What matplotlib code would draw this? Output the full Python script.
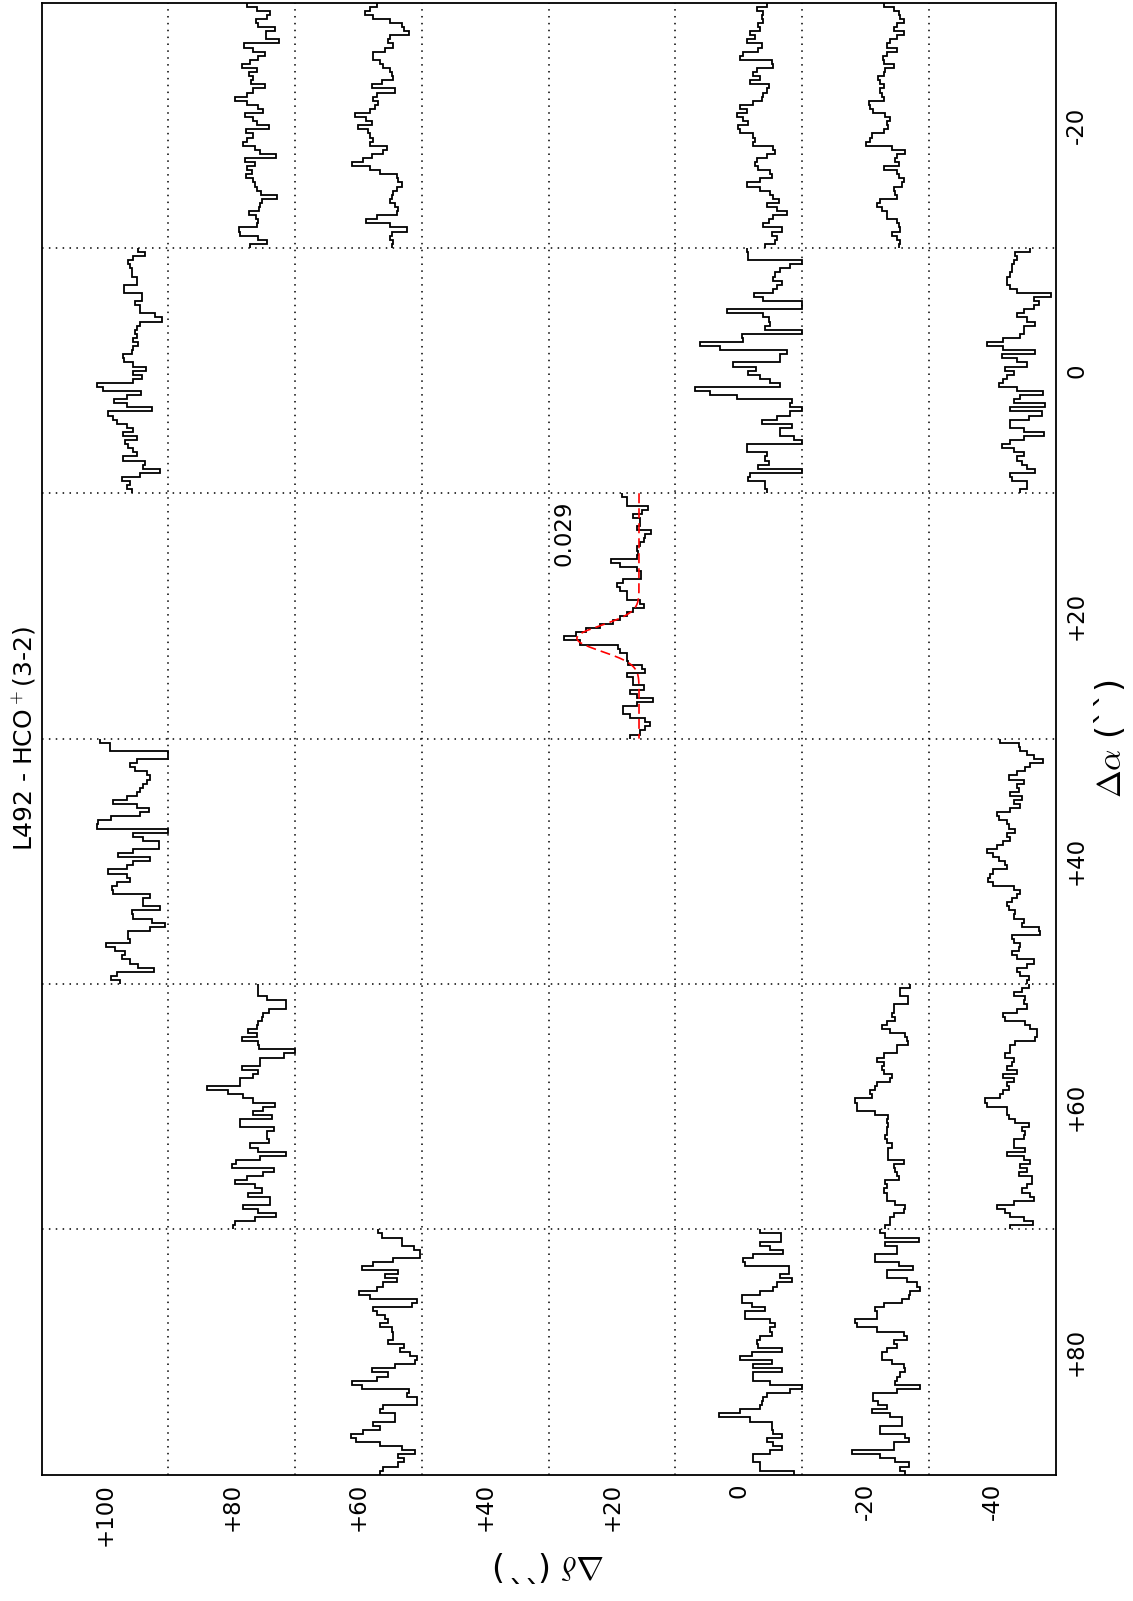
import numpy as np
import matplotlib.pyplot as plt

plt.rcParams['font.family'] = 'DejaVu Sans'
plt.rcParams['mathtext.fontset'] = 'cm'

# velocity channels (km/s)
v_start = 4.7
dv = 0.1
nchan = 60

# map offsets of the observed positions (arcsec)
ra_off = [-20, -20, -20, -20, 0, 0, 0, 20, 40, 40, 60, 60, 60, 80, 80, 80]
dec_off = [80, 60, 0, -20, 100, 0, -40, 20, 100, -40, 80, -20, -40, 60, 0, -20]

# spectra, antenna temperature per channel (mK)
t_m20_p80 = [5.7, 0.9, -5.3, -3.8, 1.3, 0.2, -7.7, -3.5, -3.5, -9.3, 6.9, 2.5, -2.7, 0.2, 4.1, 7.9, 0.9, 4.4, 2.5, 3.8,
             -3.0, 2.5, 5.7, 11.0, 5.7, 0.5, -2.2, 6.4, 2.5, 0.9, -4.6, 6.0, 2.5, 5.7, 7.2, 1.7, -0.6, -7.9, 6.4, 1.7,
             5.7, 3.3, 6.0, 2.5, 1.7, 0.9, -0.9, -8.5, -1.4, -0.6, -0.3, 4.4, 1.3, 0.2, 0.9, 9.1, 8.8, 0.5, -3.8, 4.1]
t_m20_p60 = [4.2, 7.3, 9.7, 5.7, -2.1, -7.6, -8.4, -10.8, -2.1, -1.3, -3.7, 0.2, 5.7, 5.7, 2.6, 1.0, -2.1, -2.9, -3.7, 1.8,
             6.5, -4.5, 4.2, 5.7, 3.4, 4.9, 7.3, 14.4, 8.9, 6.5, 12.8, 8.1, 7.3, 5.7, 7.3, -0.5, 1.0, 6.5, 10.4, 15.5,
             7.3, 2.6, -5.3, -6.0, -7.6, -5.3, -3.7, -2.9, -2.1, -4.5, -6.0, -5.3, 4.2, 8.9, -2.1, -10.0, -2.9, -2.1, -3.7, -2.9]
t_m20_000 = [-0.5, 4.2, 1.1, 1.9, 1.1, 3.4, 2.6, 7.3, 5.0, 8.9, 1.9, 3.4, 10.5, 12.1, -2.9, -3.6, 4.2, 5.8, 2.6, 7.3,
             -1.3, -0.5, 1.1, 1.9, 5.8, 12.1, 8.9, 13.6, 10.5, 8.1, 12.8, 12.1, 5.8, 5.0, 5.8, -3.6, -4.4, -0.5, 4.2, 5.0,
             3.4, -2.1, -2.9, 2.6, 8.9, 2.6, -2.1, -3.6, -6.0, -0.5, -5.2, -9.9, -3.6, -1.3, 1.1, -7.6, -2.9, -5.2, -4.4, 0.3]
t_m20_m20 = [4.2, -0.5, -2.8, -3.6, -5.2, -2.0, -0.5, -5.2, -2.0, 1.1, 2.7, -2.0, 2.7, 4.6, 4.2, -0.5, 3.5, 4.2, 6.6, 5.8,
             4.2, 5.8, 5.0, 4.2, 10.8, 10.5, 8.9, 3.5, 1.1, 2.7, 1.9, 4.2, 9.7, 10.5, 12.4, 0.3, -6.0, -2.0, -1.3, -2.8,
             4.2, -2.0, -2.8, -5.2, -4.4, -0.5, -1.3, -2.0, 5.8, 7.4, 5.0, 2.7, 2.7, -2.0, -2.8, -3.6, 0.3, -2.0, -3.3, -2.8]
t_000_p100 = [-3.0, -6.1, -0.6, 1.7, 0.9, 0.2, 0.2, -2.2, -2.2, 3.8, 3.8, -4.6, -4.6, -1.4, -3.8, -3.8, -10.8, -14.0, -3.8, -2.2,
              -1.4, -2.2, -0.6, -3.0, -0.6, 0.2, 4.4, 3.8, -0.6, -6.4, -0.6, -4.6, -0.6, 16.2, 13.5, -4.2, 2.5, 8.3, 2.5, -9.3,
              11.1, 8.8, 7.2, 2.5, -0.6, 4.1, -2.2, 3.3, 1.7, -0.6, -2.2, 4.1, -6.1, -5.3, -12.9, -3.8, 4.9, 0.9, 2.5, 0.2]
t_000_000 = [8.9, 8.1, 8.1, -20.0, -11.5, -6.8, -4.4, -3.6, -7.6, -5.2, -3.6, 5.5, 1.1, -20.0, -20.0, 18.3, 1.1, -1.3, -2.1, 0.3,
             -20.0, 11.3, 10.5, 30.9, 21.5, -9.9, -6.8, -6.8, 15.2, 4.5, 8.1, 2.6, -2.1, -6.8, 33.2, 26.2, 13.6, -12.3, -11.5, -17.0,
             -11.5, -5.2, 1.9, -12.3, -6.8, -6.8, -13.1, -20.0, 8.9, 8.9, -0.5, 0.3, -1.3, 3.4, -20.0, 7.3, 8.1, 0.3, 0.3, -0.5]
t_000_m40 = [-5.2, 1.9, 1.1, 2.7, 3.5, 3.5, 4.2, 5.8, 5.8, 4.2, 1.1, -14.6, -6.8, -9.1, -6.8, -2.0, 1.1, -3.6, -7.5, -2.0,
             -2.0, -0.5, 7.4, 15.2, 7.4, -7.5, 8.2, 1.1, -3.6, 6.6, 2.7, 5.8, 7.4, 9.3, 1.1, -11.1, -0.5, 2.7, -12.2, 4.2,
             -10.7, -4.4, 4.2, 4.2, -2.0, -11.5, -2.0, 4.2, 8.2, 2.7, -2.0, 1.1, -1.3, -3.6, -7.5, 4.2, 3.5, -3.6, -3.6, -0.5]
t_p20_p20 = [8.1, 5.8, 5.8, -4.4, -1.3, 2.6, -0.5, -0.5, 1.1, -5.7, -2.9, -2.1, -0.5, 1.1, 0.3, 1.1, 13.3, 8.9, 1.1, -0.8,
             -0.8, 7.3, 10.5, 8.9, 5.8, 5.8, -0.5, -2.1, 2.6, 5.8, 8.9, 12.1, 18.3, 24.6, 29.3, 34.8, 27.7, 9.7, 8.9, 5.8,
             5.8, 5.0, -1.3, -2.9, 5.8, 2.6, 2.6, -2.1, 4.2, 1.1, -6.5, 1.1, 7.3, 7.3, 4.2, -2.9, -5.2, -2.9, -0.5, 4.2]
t_p40_p100 = [15.1, 10.4, 10.4, -20.0, -20.0, -2.2, 0.9, -1.4, -6.9, -8.5, -6.9, -5.3, -3.8, -2.2, 2.5, 8.8, -2.2, -8.0, -3.8, 9.6,
              15.9, 16.2, -20.0, -0.6, -5.3, -12.4, -12.4, -0.6, 6.4, -8.5, -0.6, 2.5, 11.1, 2.5, 0.9, 7.2, 9.3, 8.8, -8.5, -5.3,
              -5.3, -13.2, 0.2, -0.6, -9.3, -15.5, -8.5, 1.7, 1.7, 0.9, 12.2, 8.0, 3.3, 4.9, 0.9, -3.0, -10.4, 7.2, 9.6, 5.7]
t_p40_m40 = [8.9, 0.3, -0.5, -3.6, -6.8, -11.1, -5.2, -2.8, 1.1, 5.0, -2.0, 1.1, 0.3, 4.2, -1.3, 2.7, -0.5, 4.2, 10.2, 9.7,
             5.8, 5.0, 1.9, 5.8, 4.2, 7.4, 10.5, 15.2, 12.1, 9.7, 6.6, 5.8, 12.1, 13.7, 14.4, 12.1, 2.7, -0.5, 1.1, 3.5,
             5.8, 5.0, 1.9, 2.7, -2.0, -1.3, -9.1, -9.9, 3.5, 2.7, -0.5, 0.3, 3.5, 1.1, -6.8, -3.6, 1.1, -0.5, -4.4, -3.6]
t_p60_p80 = [0.2, 0.2, 0.2, -3.8, -12.7, -12.7, -4.6, -2.2, -1.4, 0.2, 0.9, 4.9, 0.9, 8.0, 0.2, -0.3, -20.0, -11.6, -0.6, -0.6,
             8.0, 0.2, 2.5, 8.8, 8.8, 24.2, 14.3, 7.2, 2.5, -7.7, -2.2, 2.5, -6.1, 8.8, 8.8, -6.9, -3.8, -3.8, -4.6, 4.1,
             0.2, -12.9, -0.6, 10.4, 12.7, -6.9, -2.2, 5.7, 11.1, 1.7, -1.4, 4.9, -5.3, -5.3, 7.2, 0.2, -8.2, 1.7, 11.1, 11.9]
t_p60_m20 = [-8.3, -3.6, -3.6, -7.2, -7.2, -0.5, -0.5, 0.3, -1.3, 2.7, 5.0, 1.1, -6.0, -6.8, -7.1, -2.0, -2.0, 4.2, 7.4, 4.2,
             5.0, 4.2, 0.3, 1.1, 7.4, 8.2, 10.5, 9.7, 17.6, 16.8, 16.8, 8.2, 1.9, 2.7, 1.9, 2.7, 2.7, 3.5, 2.7, 0.3,
             1.9, 1.9, 1.9, -5.2, -0.5, -1.3, -2.0, -2.8, 3.5, 2.7, 4.2, 2.7, 2.7, -1.3, -6.0, -5.2, -0.5, 1.1, 1.1, 3.5]
t_p60_m40 = [-4.4, -1.3, 2.7, -2.8, -2.0, -3.6, 1.1, 7.4, 6.6, -2.8, -5.2, -8.3, -8.3, -7.5, 1.9, 4.2, 4.2, 6.6, 2.7, 3.5,
             5.8, 1.1, 7.4, 2.7, 5.8, 5.0, 7.4, 8.9, 16.0, 15.2, 5.8, 5.8, 5.0, 1.9, -4.4, -1.3, -2.8, -2.0, 2.7, 2.7,
             -2.8, 5.8, -2.0, -5.2, -0.5, -3.6, 0.3, -6.0, -6.0, -3.6, -1.3, -5.2, -6.8, 2.7, 10.5, 6.6, 4.2, -2.0, -6.4, 4.2]
t_p80_p60 = [3.4, 1.8, -7.6, -7.6, -13.1, -15.9, -15.9, -3.7, 5.7, 11.2, -6.0, 0.2, -5.3, 1.0, 4.2, 12.3, 7.3, -14.7, -12.3, 5.7,
             4.2, 0.2, -1.3, 2.6, -2.9, -3.7, -3.7, -1.3, -8.4, -6.8, -11.5, -14.7, -13.9, -4.5, 6.5, -1.3, 4.2, 15.5, 11.2, -10.8,
             -10.0, -14.7, -14.7, 1.0, 2.6, -4.5, -4.5, 5.7, 2.6, 10.4, 16.0, 13.6, 2.6, -7.6, -13.9, -6.0, -8.4, -6.0, 1.0, 2.6]
t_p80_000 = [2.6, -7.1, -7.1, 2.6, -2.1, -8.1, 5.8, 10.5, 9.7, -10.7, -10.7, -6.8, -12.3, -5.2, -3.6, 2.6, 11.3, 11.3, 6.6, 0.3,
             9.7, 9.7, -2.1, -4.4, -2.1, -2.9, 2.6, 4.2, 3.4, -7.6, 6.6, 12.1, -2.9, 5.8, -7.6, 5.8, 5.8, -2.1, -20.0, -11.5,
             -0.5, 1.1, 1.9, 2.6, 12.1, 21.8, 7.3, -2.9, -2.9, -3.6, -7.6, -0.5, -3.6, -7.6, -2.1, 5.8, 5.8, 2.6, 2.6, -13.1]
t_p80_m20 = [5.8, 3.5, -12.2, 3.5, -2.0, -2.0, 8.2, 8.2, -2.8, -9.6, 2.7, 2.7, -6.8, -11.5, -12.6, -8.3, -7.5, -4.4, 4.2, 8.2,
             7.4, 7.4, 17.6, 16.8, 7.4, -5.2, -6.8, -0.5, -2.0, 2.7, 5.0, 5.0, 0.3, -5.2, -6.0, -3.6, -2.0, -1.3, -12.7, -2.0,
             8.9, 8.9, 6.6, 2.7, 9.7, 1.1, -4.4, -4.4, 5.8, 5.8, -6.0, -7.5, -0.5, -0.5, 18.7, 5.8, -1.3, -7.5, -3.6, -6.0]

spectra = [t_m20_p80, t_m20_p60, t_m20_000, t_m20_m20,
           t_000_p100, t_000_000, t_000_m40,
           t_p20_p20,
           t_p40_p100, t_p40_m40,
           t_p60_p80, t_p60_m20, t_p60_m40,
           t_p80_p60, t_p80_000, t_p80_m20]

# gaussian fit of the detection at (+20, +20)
fit_ra = 20
fit_dec = 20
fit_peak = 0.029   # K
fit_vc = 8.245     # km/s
fit_fwhm = 0.75    # km/s

dec_ticks = [100, 80, 60, 40, 20, 0, -20, -40]
ra_ticks = [-20, 0, 20, 40, 60, 80]
dec_grid = [90, 70, 50, 30, 10, -10, -30]
ra_grid = [-10, 10, 30, 50, 70]

cell = 20.0          # arcsec per map cell
base_off = -4.25     # baseline position inside the cell (arcsec)
tscale = 338.0       # arcsec per K


def fmt(v):
    return '0' if v == 0 else '%+d' % v


fig = plt.figure(figsize=(11.33, 16.01), dpi=100)
ax = fig.add_axes([0.0368, 0.0789, 0.8950, 0.9195])

dots = (0, (1, 3.5))
for d in dec_grid:
    ax.axvline(d, color='k', lw=1.1, ls=dots, zorder=1)
for a in ra_grid:
    ax.axhline(a, color='k', lw=1.1, ls=dots, zorder=1)

vel_edges = v_start + dv * np.arange(nchan + 1)
vspan = dv * nchan

for ra, dec, spec in zip(ra_off, dec_off, spectra):
    y_edges = ra - cell / 2 + (vel_edges - v_start) / vspan * cell
    x_vals = dec + base_off + np.array(spec) / 1000.0 * tscale
    x_vals = np.clip(x_vals, dec - cell / 2, dec + cell / 2)
    ax.stairs(x_vals, y_edges, orientation='horizontal', baseline=None,
              color='k', lw=1.3, zorder=2)

# fitted profile
vv = np.linspace(v_start, v_start + vspan, 400)
model = fit_peak * np.exp(-4 * np.log(2) * (vv - fit_vc) ** 2 / fit_fwhm ** 2)
ax.plot(fit_dec + base_off + model * tscale,
        fit_ra - cell / 2 + (vv - v_start) / vspan * cell,
        color='red', lw=1.2, ls=(0, (6, 3)), zorder=3)
ax.text(fit_dec + 9.4, fit_ra - 9.4, '%.3f' % fit_peak, rotation=90,
        ha='left', va='top', fontsize=16.5)

ax.set_xlim(110, -50)
ax.set_ylim(90, -30)

ax.set_xticks(dec_ticks)
ax.set_xticklabels([fmt(v) for v in dec_ticks], rotation=90)
ax.yaxis.tick_right()
ax.set_yticks(ra_ticks)
ax.set_yticklabels([fmt(v) for v in ra_ticks], rotation=90, va='center')
ax.tick_params(axis='both', length=0, labelsize=16.5)
ax.tick_params(axis='x', pad=6)
ax.tick_params(axis='y', pad=6.7)

for sp in ax.spines.values():
    sp.set_linewidth(1.3)

ax.set_xlabel(r"$\Delta\delta$ (``)", rotation=180, fontsize=24,
              ha='center', va='center')
ax.xaxis.set_label_coords(0.5, -0.0615)
ax.yaxis.set_label_position('right')
ax.set_ylabel(r"$\Delta\alpha$ (``)", rotation=90, fontsize=24,
              ha='center', va='center')
ax.yaxis.set_label_coords(1.0536, 0.5)

ax.text(-0.0175, 0.5, 'L492 - HCO$^+$(3-2)', rotation=90, transform=ax.transAxes,
        ha='center', va='center', fontsize=18)

fig.savefig('out.png', dpi=100)
